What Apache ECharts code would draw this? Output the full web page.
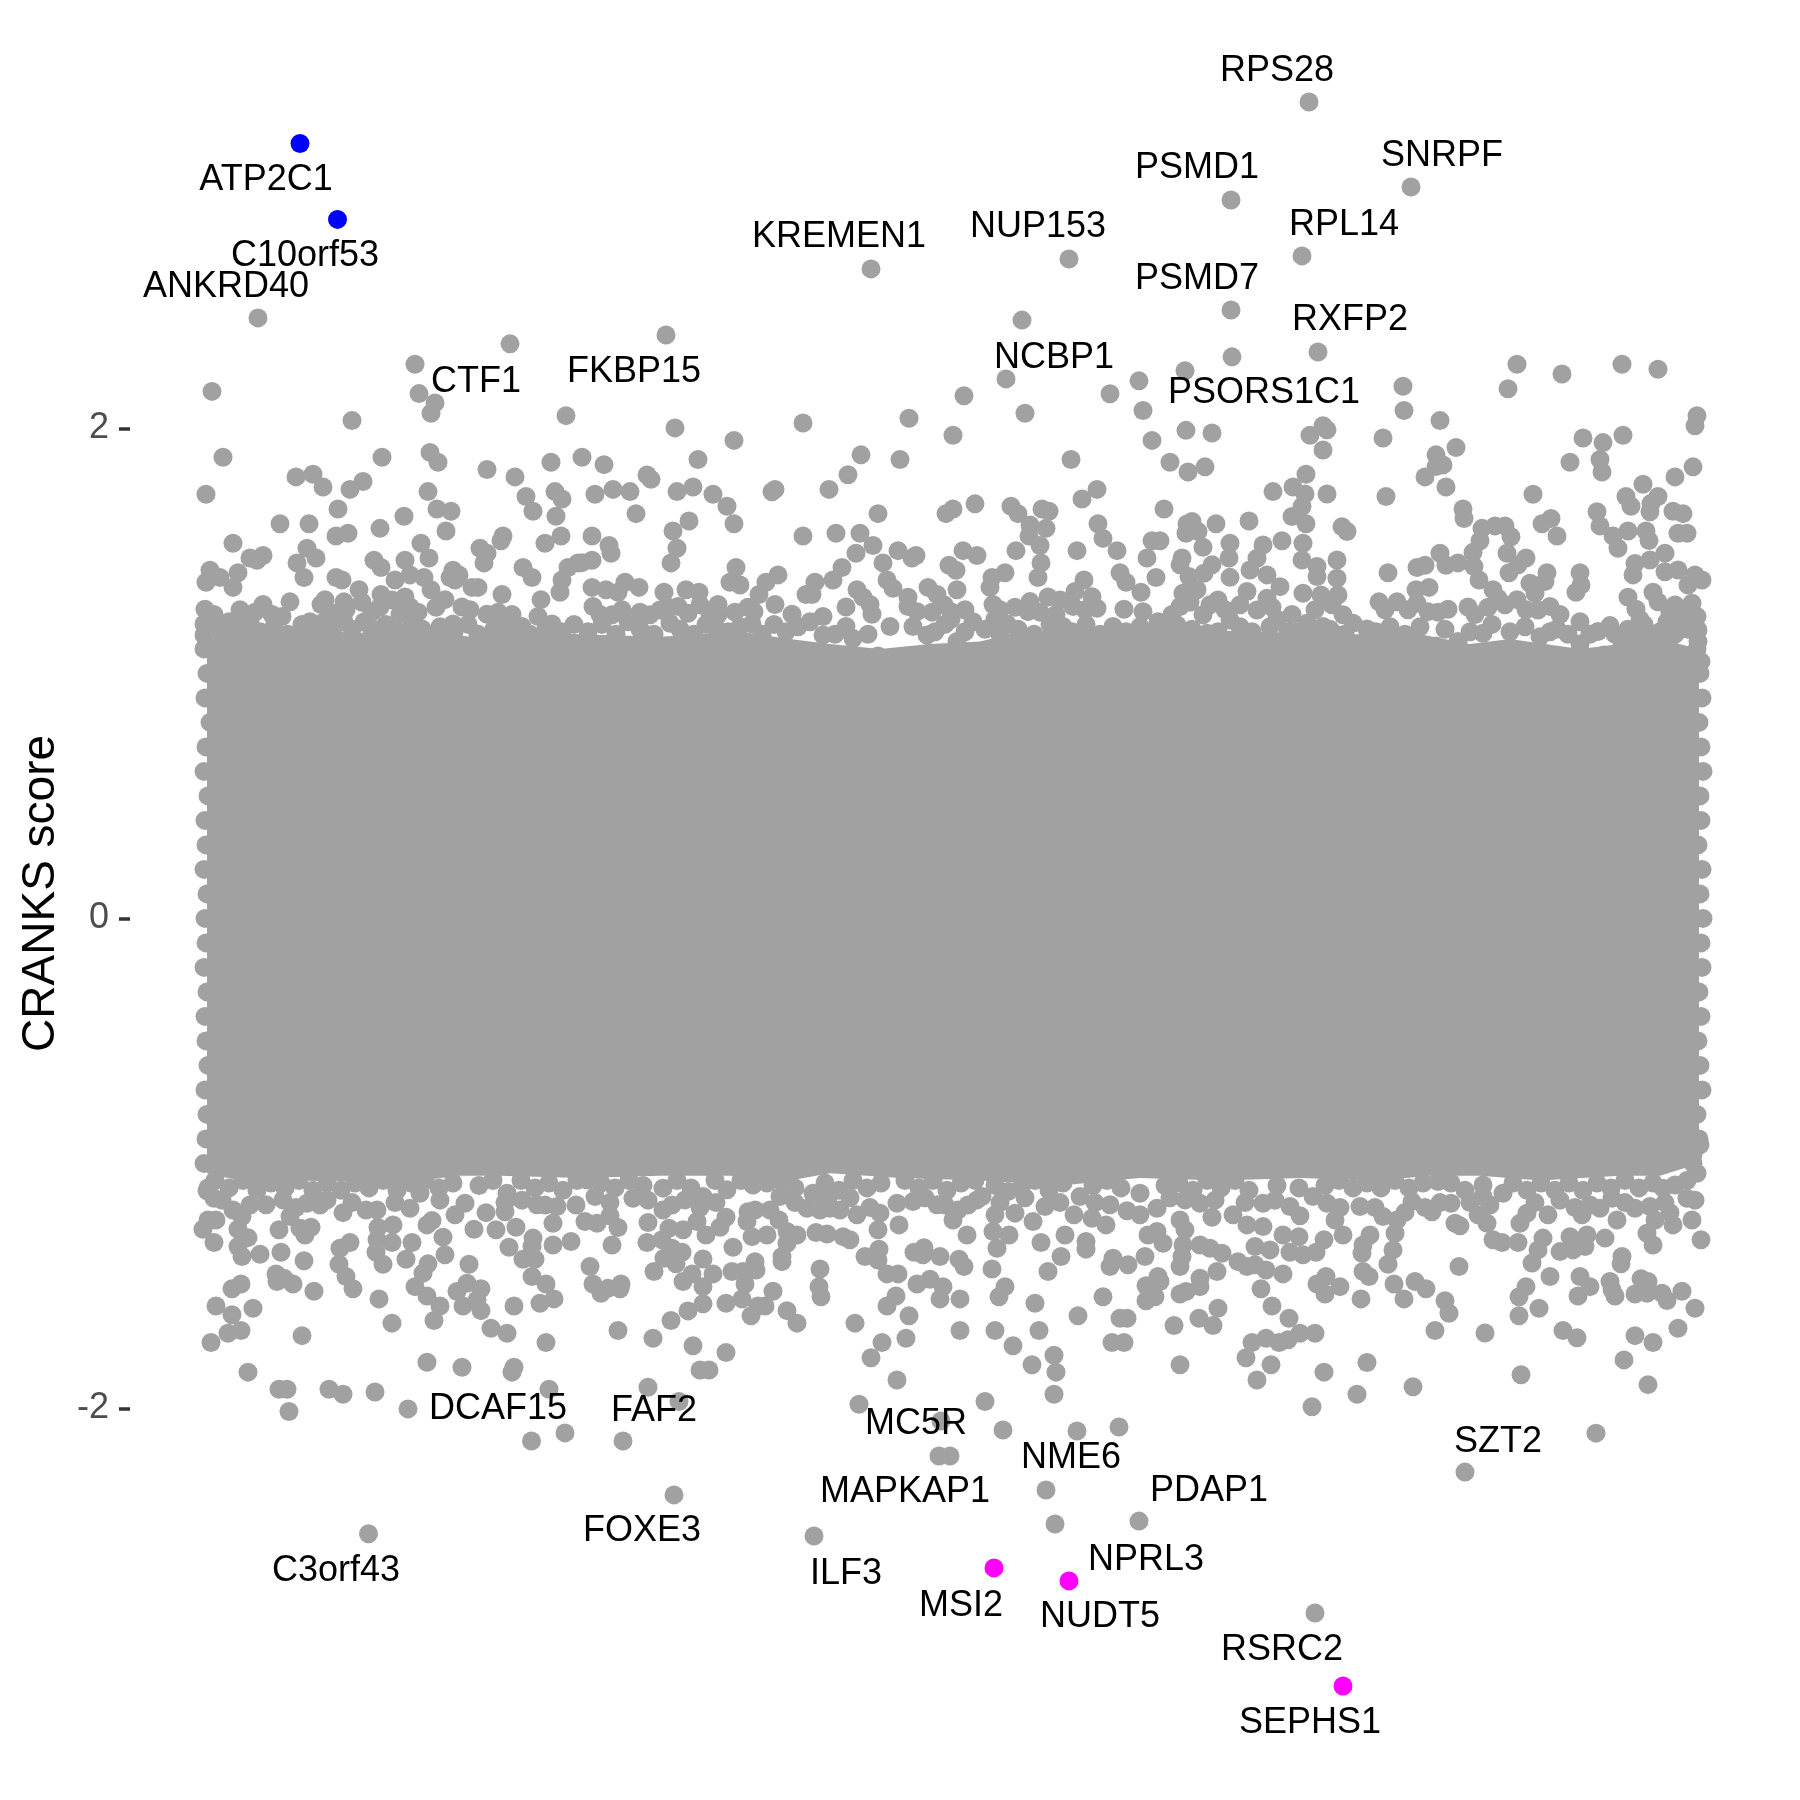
<!DOCTYPE html>
<html><head><meta charset="utf-8">
<style>html,body{margin:0;padding:0;background:#fff}#c{width:1800px;height:1800px}</style>
<script src="https://cdn.jsdelivr.net/npm/echarts@6/dist/echarts.min.js"></script>
</head><body><div id="c"></div>
<script>
const yTicks=[-2,0,2];
const coreUpper=[[207,1.14],[240,1.17],[300,1.18],[340,1.16],[420,1.18],[470,1.15],[520,1.17],[580,1.16],[660,1.15],[740,1.17],[790,1.14],[830,1.12],[880,1.1],[930,1.12],[980,1.13],[1020,1.17],[1100,1.18],[1180,1.18],[1260,1.17],[1340,1.16],[1420,1.16],[1470,1.12],[1510,1.14],[1580,1.1],[1620,1.12],[1660,1.14],[1699,1.1]];
const coreLower=[[207,-1.04],[250,-1.08],[300,-1.07],[400,-1.08],[460,-1.05],[500,-1.05],[580,-1.06],[660,-1.05],[730,-1.05],[790,-1.07],[830,-1.04],[900,-1.06],[980,-1.07],[1060,-1.09],[1140,-1.06],[1220,-1.07],[1300,-1.06],[1380,-1.07],[1430,-1.05],[1480,-1.05],[1540,-1.07],[1620,-1.05],[1660,-1.05],[1699,-1.0]];
const edgeLeft=[[204,1.1],[207,1.0],[205,0.9],[210,0.8],[206,0.7],[204,0.6],[208,0.5],[205,0.4],[206,0.3],[204,0.2],[207,0.1],[205,0],[206,-0.1],[204,-0.2],[207,-0.3],[205,-0.4],[206,-0.5],[208,-0.6],[205,-0.7],[207,-0.8],[206,-0.9],[204,-1.0],[208,-1.1]];
const edgeRight=[[1697,1.1],[1700,1.0],[1702,0.9],[1699,0.8],[1701,0.7],[1703,0.6],[1700,0.5],[1701,0.4],[1698,0.3],[1702,0.2],[1700,0.1],[1703,0],[1701,-0.1],[1702,-0.2],[1699,-0.3],[1701,-0.4],[1698,-0.5],[1700,-0.6],[1702,-0.7],[1697,-0.8],[1699,-0.9],[1693,-1.0]];
const fillTopA=[[218,1.18],[232,1.16],[246,1.2],[260,1.17],[274,1.19],[288,1.16],[302,1.2],[316,1.17],[330,1.19],[352,1.18],[364,1.21],[372,1.16],[386,1.2],[398,1.17],[412,1.21],[428,1.16],[440,1.19],[454,1.17],[468,1.2],[478,1.16],[494,1.18],[512,1.17],[530,1.16],[546,1.18],[562,1.17],[574,1.2],[588,1.17],[602,1.2],[616,1.16],[640,1.18],[654,1.16],[680,1.18],[694,1.16],[706,1.2],[728,1.17],[740,1.19],[762,1.16],[774,1.2],[786,1.17],[798,1.19],[835,1.16],[868,1.16],[935,1.17],[945,1.2],[965,1.17],[985,1.18],[1000,1.16],[1018,1.18],[1034,1.16],[1050,1.2],[1072,1.17],[1086,1.2],[1100,1.16],[1126,1.17],[1140,1.19],[1150,1.16],[1170,1.17],[1192,1.18],[1218,1.17],[1240,1.19],[1252,1.17],[1270,1.19],[1298,1.17],[1314,1.16],[1330,1.18],[1345,1.16],[1376,1.17],[1390,1.19],[1405,1.16],[1420,1.19],[1445,1.18],[1470,1.17],[1492,1.2],[1510,1.17],[1525,1.19],[1550,1.17],[1568,1.16],[1590,1.16],[1615,1.16],[1628,1.18],[1644,1.2],[1660,1.17],[1675,1.16],[1688,1.18]];
const fillTopB=[[214,1.24],[240,1.26],[255,1.25],[272,1.24],[330,1.25],[346,1.26],[362,1.29],[372,1.25],[392,1.3],[400,1.24],[418,1.25],[436,1.27],[470,1.26],[498,1.25],[512,1.24],[600,1.24],[622,1.26],[640,1.25],[668,1.27],[700,1.28],[710,1.24],[735,1.25],[748,1.27],[932,1.25],[944,1.28],[965,1.26],[1000,1.26],[1015,1.27],[1040,1.25],[1056,1.24],[1085,1.26],[1172,1.24],[1190,1.29],[1210,1.28],[1225,1.26],[1240,1.28],[1272,1.27],[1292,1.24],[1315,1.26],[1332,1.28],[1385,1.26],[1408,1.26],[1438,1.25],[1475,1.24],[1488,1.27],[1505,1.28],[1526,1.26],[1560,1.24],[1640,1.22],[1670,1.25],[1685,1.25]];
const fillLowA=[[215,-1.07],[229,-1.1],[243,-1.07],[257,-1.11],[271,-1.08],[285,-1.1],[299,-1.07],[313,-1.11],[327,-1.08],[341,-1.11],[355,-1.08],[369,-1.1],[383,-1.07],[397,-1.11],[411,-1.08],[425,-1.07],[439,-1.1],[453,-1.08],[479,-1.09],[493,-1.07],[521,-1.07],[535,-1.1],[549,-1.08],[563,-1.11],[577,-1.07],[601,-1.08],[615,-1.1],[629,-1.07],[643,-1.09],[677,-1.07],[691,-1.1],[715,-1.07],[741,-1.07],[767,-1.08],[781,-1.07],[795,-1.1],[825,-1.08],[839,-1.11],[853,-1.07],[867,-1.1],[881,-1.08],[905,-1.07],[919,-1.1],[933,-1.07],[947,-1.11],[961,-1.08],[975,-1.07],[995,-1.09],[1021,-1.1],[1035,-1.07],[1049,-1.11],[1063,-1.08],[1093,-1.09],[1107,-1.07],[1121,-1.1],[1165,-1.09],[1179,-1.08],[1193,-1.11],[1207,-1.07],[1221,-1.1],[1235,-1.07],[1249,-1.11],[1277,-1.09],[1299,-1.1],[1325,-1.09],[1339,-1.07],[1353,-1.1],[1367,-1.08],[1381,-1.1],[1395,-1.07],[1409,-1.1],[1423,-1.08],[1451,-1.08],[1465,-1.11],[1513,-1.08],[1527,-1.11],[1541,-1.08],[1555,-1.11],[1569,-1.08],[1583,-1.11],[1597,-1.08],[1611,-1.1],[1625,-1.07],[1639,-1.1],[1653,-1.08],[1687,-1.07]];
const fillLowB=[[222,-1.15],[250,-1.17],[296,-1.18],[320,-1.17],[352,-1.16],[366,-1.19],[395,-1.16],[440,-1.15],[505,-1.16],[522,-1.15],[545,-1.17],[576,-1.17],[610,-1.16],[648,-1.15],[672,-1.17],[700,-1.18],[716,-1.16],[770,-1.19],[795,-1.16],[850,-1.14],[870,-1.18],[925,-1.14],[945,-1.17],[968,-1.17],[1000,-1.16],[1025,-1.14],[1060,-1.16],[1095,-1.16],[1170,-1.14],[1215,-1.15],[1245,-1.16],[1275,-1.15],[1340,-1.18],[1375,-1.18],[1405,-1.2],[1425,-1.18],[1440,-1.16],[1470,-1.16],[1490,-1.17],[1535,-1.16],[1560,-1.15],[1575,-1.18],[1590,-1.17],[1625,-1.16],[1665,-1.16],[1695,-1.15]];
const highUpper=[[1309,3.332],[1411,2.985],[1231,2.932],[1302,2.704],[1069,2.691],[871,2.651],[1231,2.483],[1022,2.442],[258,2.451],[666,2.381],[510,2.345],[1318,2.312],[1232,2.292],[1185,2.235],[1139,2.194],[1110,2.141],[964,2.133],[1006,2.202]];
const upperA=[[212,2.151],[352,2.032],[223,1.882],[206,1.731],[415,2.262],[419,2.142],[435,2.104],[431,2.062],[430,1.902],[438,1.862],[382,1.882],[296,1.802],[313,1.813],[323,1.761],[363,1.783],[350,1.751],[566,2.052],[487,1.832],[515,1.802],[551,1.862],[582,1.882],[555,1.742],[562,1.712],[526,1.722],[533,1.662],[556,1.641],[561,1.561],[545,1.531],[428,1.742],[437,1.671],[451,1.662],[446,1.581],[404,1.641],[380,1.592],[338,1.671],[309,1.611],[280,1.611],[348,1.572],[336,1.561],[233,1.531],[421,1.531],[429,1.471],[503,1.561],[501,1.541],[480,1.511],[487,1.49],[484,1.451],[307,1.511],[316,1.471],[297,1.451],[304,1.391],[263,1.481],[257,1.462],[250,1.471],[210,1.421],[238,1.411],[220,1.391],[206,1.372],[233,1.351],[374,1.462],[381,1.432],[405,1.462],[523,1.432],[532,1.391],[578,1.451],[568,1.432],[562,1.381],[560,1.331],[336,1.391],[342,1.381],[453,1.421],[459,1.402],[450,1.391],[455,1.381],[472,1.351],[478,1.351],[502,1.322],[541,1.301],[395,1.381],[410,1.402],[424,1.391],[431,1.341],[445,1.301],[462,1.271],[487,1.241],[359,1.341],[381,1.322],[405,1.312],[325,1.301],[344,1.292],[321,1.281],[290,1.292],[263,1.281],[205,1.262],[229,1.211],[250,1.211],[282,1.232],[310,1.211],[324,1.211],[344,1.211],[403,1.271],[410,1.271],[380,1.271],[422,1.181],[453,1.202],[504,1.191],[522,1.191],[538,1.232],[552,1.202],[204,1.202],[204,1.157],[293,1.142],[336,1.142],[447,1.151],[480,1.123],[377,1.177]];
const upperB=[[675,2.002],[734,1.951],[803,2.022],[909,2.041],[953,1.972],[861,1.892],[848,1.811],[900,1.873],[829,1.751],[698,1.873],[604,1.852],[595,1.731],[613,1.751],[630,1.742],[647,1.81],[651,1.792],[636,1.652],[677,1.742],[693,1.761],[713,1.731],[727,1.682],[734,1.611],[689,1.622],[673,1.581],[677,1.511],[671,1.451],[592,1.561],[609,1.522],[611,1.49],[592,1.462],[582,1.452],[775,1.751],[772,1.741],[878,1.652],[803,1.561],[836,1.572],[860,1.572],[873,1.522],[856,1.49],[898,1.501],[916,1.481],[912,1.471],[953,1.671],[946,1.652],[975,1.692],[963,1.501],[977,1.481],[949,1.441],[956,1.421],[883,1.451],[842,1.432],[833,1.381],[815,1.372],[806,1.322],[812,1.322],[736,1.432],[730,1.372],[740,1.361],[778,1.402],[766,1.372],[759,1.322],[775,1.281],[792,1.241],[754,1.252],[752,1.202],[846,1.271],[846,1.191],[853,1.142],[857,1.341],[863,1.311],[870,1.281],[872,1.241],[887,1.381],[893,1.347],[908,1.311],[928,1.351],[937,1.322],[957,1.341],[951,1.252],[951,1.221],[973,1.211],[917,1.252],[908,1.273],[890,1.191],[913,1.191],[927,1.157],[928,1.082],[957,1.13],[878,1.071],[902,1.066],[592,1.351],[606,1.341],[618,1.331],[625,1.372],[639,1.351],[664,1.331],[686,1.341],[699,1.331],[718,1.281],[718,1.239],[650,1.239],[660,1.259],[678,1.273],[688,1.245],[593,1.273],[612,1.239],[628,1.211],[823,1.232],[810,1.211],[670,1.205],[715,1.191],[823,1.157]];
const upperC=[[1025,2.062],[1143,2.073],[1152,1.951],[1186,1.992],[1212,1.981],[1310,1.972],[1323,2.011],[1327,1.994],[1323,1.912],[1071,1.873],[1170,1.862],[1188,1.822],[1205,1.843],[1306,1.813],[1273,1.742],[1293,1.761],[1305,1.732],[1327,1.732],[1302,1.681],[1292,1.64],[1306,1.611],[1097,1.751],[1082,1.712],[1164,1.671],[1011,1.682],[1018,1.652],[1042,1.671],[1049,1.662],[1030,1.606],[1046,1.592],[1029,1.561],[1040,1.522],[1041,1.451],[1038,1.391],[1016,1.501],[1077,1.501],[1098,1.611],[1103,1.551],[1117,1.501],[1120,1.411],[1126,1.372],[1141,1.331],[1084,1.381],[1005,1.411],[992,1.391],[990,1.351],[993,1.281],[1030,1.293],[1048,1.312],[1060,1.3],[1075,1.334],[1092,1.313],[1097,1.266],[1073,1.273],[1028,1.252],[995,1.221],[1007,1.202],[1124,1.262],[1143,1.252],[1158,1.211],[1147,1.471],[1152,1.541],[1160,1.541],[1156,1.391],[1187,1.61],[1192,1.62],[1186,1.572],[1198,1.579],[1216,1.611],[1249,1.622],[1282,1.541],[1203,1.515],[1230,1.531],[1182,1.471],[1180,1.443],[1212,1.443],[1204,1.409],[1189,1.395],[1229,1.471],[1230,1.392],[1257,1.47],[1263,1.524],[1250,1.422],[1267,1.402],[1303,1.531],[1302,1.463],[1317,1.436],[1337,1.463],[1342,1.599],[1347,1.579],[1317,1.395],[1337,1.388],[1338,1.32],[1321,1.32],[1303,1.327],[1280,1.354],[1247,1.334],[1218,1.3],[1197,1.341],[1183,1.327],[1180,1.273],[1203,1.239],[1177,1.198],[1277,1.221],[1257,1.259],[1267,1.307],[1230,1.218],[1307,1.205],[1323,1.191],[1343,1.239],[1288,1.171],[1113,1.191],[1063,1.191],[1207,1.164],[1338,1.157]];
const upperD=[[1517,2.262],[1562,2.222],[1622,2.262],[1658,2.241],[1508,2.162],[1403,2.172],[1404,2.073],[1440,2.032],[1383,1.961],[1697,2.052],[1695,2.011],[1693,1.843],[1675,1.802],[1623,1.972],[1583,1.961],[1603,1.942],[1600,1.873],[1602,1.822],[1570,1.862],[1456,1.922],[1436,1.892],[1443,1.851],[1436,1.844],[1425,1.802],[1446,1.761],[1386,1.722],[1533,1.731],[1643,1.772],[1626,1.722],[1631,1.682],[1658,1.722],[1651,1.694],[1650,1.66],[1597,1.66],[1600,1.602],[1673,1.662],[1683,1.652],[1678,1.572],[1687,1.572],[1463,1.671],[1464,1.632],[1551,1.632],[1542,1.611],[1557,1.561],[1613,1.561],[1618,1.511],[1628,1.581],[1646,1.581],[1649,1.542],[1665,1.49],[1482,1.592],[1495,1.602],[1505,1.602],[1511,1.558],[1480,1.541],[1473,1.494],[1440,1.49],[1446,1.441],[1458,1.451],[1474,1.436],[1479,1.381],[1507,1.49],[1526,1.471],[1518,1.443],[1509,1.411],[1547,1.411],[1425,1.441],[1417,1.432],[1388,1.411],[1429,1.351],[1416,1.341],[1379,1.292],[1397,1.292],[1580,1.411],[1581,1.361],[1576,1.331],[1530,1.368],[1545,1.375],[1493,1.341],[1498,1.307],[1517,1.301],[1535,1.327],[1550,1.273],[1538,1.259],[1468,1.271],[1448,1.262],[1428,1.252],[1417,1.286],[1580,1.211],[1557,1.181],[1610,1.195],[1598,1.171],[1635,1.449],[1650,1.463],[1633,1.402],[1665,1.415],[1678,1.422],[1695,1.402],[1702,1.381],[1688,1.361],[1628,1.311],[1636,1.262],[1653,1.331],[1658,1.292],[1675,1.279],[1692,1.286],[1667,1.211],[1697,1.232],[1698,1.177],[1698,1.13],[1680,1.205],[1622,1.12],[1650,1.15],[1635,1.143],[1668,1.116],[1580,1.12],[1436,1.112],[1397,1.109],[1367,1.181],[1353,1.205],[1458,1.13],[1483,1.164],[1540,1.15],[1604,1.075],[1701,1.048],[1458,1.055]];
const lowerA=[[211,-1.731],[228,-1.693],[241,-1.682],[232,-1.618],[216,-1.582],[253,-1.591],[232,-1.512],[241,-1.492],[302,-1.703],[248,-1.852],[279,-1.922],[287,-1.922],[289,-2.013],[329,-1.922],[343,-1.942],[375,-1.933],[408,-2.002],[427,-1.812],[462,-1.832],[514,-1.832],[512,-1.852],[549,-1.922],[546,-1.731],[507,-1.693],[491,-1.673],[481,-1.601],[514,-1.582],[540,-1.571],[554,-1.553],[546,-1.492],[532,-1.462],[463,-1.582],[457,-1.523],[467,-1.489],[481,-1.512],[477,-1.557],[434,-1.641],[440,-1.582],[427,-1.541],[415,-1.503],[423,-1.448],[428,-1.41],[392,-1.652],[379,-1.553],[314,-1.522],[353,-1.512],[346,-1.462],[339,-1.412],[340,-1.346],[350,-1.323],[293,-1.492],[284,-1.469],[277,-1.482],[276,-1.451],[304,-1.397],[281,-1.363],[260,-1.371],[242,-1.38],[238,-1.339],[248,-1.303],[238,-1.269],[214,-1.323],[203,-1.269],[208,-1.231],[216,-1.231],[279,-1.271],[305,-1.292],[311,-1.261],[300,-1.265],[290,-1.217],[242,-1.217],[233,-1.19],[343,-1.201],[383,-1.412],[376,-1.363],[377,-1.312],[392,-1.323],[378,-1.262],[393,-1.251],[406,-1.391],[412,-1.323],[445,-1.373],[443,-1.301],[427,-1.251],[432,-1.233],[474,-1.269],[496,-1.271],[516,-1.261],[509,-1.342],[523,-1.391],[535,-1.391],[533,-1.305],[532,-1.339],[553,-1.333],[571,-1.319],[553,-1.244],[557,-1.176],[455,-1.21],[465,-1.163],[486,-1.201],[505,-1.197],[537,-1.169],[469,-1.412],[207,-1.112],[214,-1.142],[266,-1.169],[283,-1.149],[307,-1.163],[327,-1.149],[410,-1.183],[420,-1.122],[377,-1.19],[507,-1.122]];
const lowerB=[[618,-1.682],[653,-1.714],[671,-1.641],[688,-1.602],[703,-1.573],[693,-1.744],[726,-1.772],[700,-1.843],[709,-1.843],[648,-1.914],[679,-1.972],[855,-1.652],[882,-1.731],[871,-1.793],[906,-1.714],[909,-1.622],[960,-1.682],[897,-1.884],[859,-1.983],[941,-2.051],[887,-1.582],[896,-1.541],[917,-1.492],[930,-1.473],[943,-1.503],[940,-1.553],[960,-1.553],[898,-1.451],[887,-1.451],[878,-1.394],[865,-1.38],[879,-1.35],[914,-1.363],[924,-1.344],[923,-1.373],[940,-1.38],[959,-1.391],[964,-1.421],[967,-1.292],[797,-1.652],[787,-1.601],[821,-1.544],[819,-1.503],[820,-1.431],[782,-1.401],[782,-1.38],[773,-1.522],[765,-1.582],[758,-1.582],[751,-1.622],[742,-1.553],[726,-1.571],[745,-1.492],[703,-1.503],[683,-1.482],[692,-1.451],[713,-1.451],[703,-1.39],[732,-1.441],[755,-1.401],[756,-1.435],[743,-1.441],[733,-1.342],[654,-1.441],[676,-1.41],[664,-1.387],[682,-1.363],[672,-1.346],[647,-1.323],[662,-1.312],[648,-1.241],[663,-1.19],[669,-1.265],[683,-1.271],[706,-1.292],[720,-1.261],[726,-1.22],[697,-1.237],[612,-1.333],[618,-1.262],[610,-1.214],[597,-1.244],[585,-1.237],[590,-1.421],[593,-1.492],[601,-1.53],[620,-1.512],[621,-1.492],[608,-1.51],[595,-1.135],[587,-1.067],[633,-1.142],[685,-1.149],[748,-1.197],[755,-1.19],[747,-1.237],[752,-1.299],[767,-1.292],[779,-1.231],[787,-1.278],[797,-1.292],[787,-1.326],[816,-1.282],[827,-1.288],[843,-1.299],[850,-1.312],[878,-1.271],[899,-1.251],[857,-1.21],[807,-1.183],[820,-1.19],[830,-1.183],[780,-1.135],[813,-1.122],[828,-1.142],[840,-1.19],[880,-1.203],[897,-1.163],[913,-1.156],[937,-1.169],[953,-1.231],[958,-1.19],[977,-1.149],[727,-1.108],[753,-1.088],[703,-1.135],[663,-1.101]];
const lowerC=[[985,-1.972],[1054,-1.942],[1056,-1.852],[1054,-1.783],[1032,-1.822],[1013,-1.744],[995,-1.682],[1039,-1.682],[1035,-1.571],[999,-1.544],[1005,-1.503],[992,-1.431],[1048,-1.441],[1061,-1.38],[1086,-1.35],[1086,-1.319],[1078,-1.622],[1103,-1.544],[1120,-1.632],[1127,-1.632],[1112,-1.731],[1124,-1.731],[1174,-1.662],[1180,-1.822],[1199,-1.632],[1213,-1.662],[1218,-1.591],[1246,-1.793],[1252,-1.731],[1266,-1.714],[1279,-1.731],[1288,-1.72],[1300,-1.693],[1315,-1.693],[1289,-1.632],[1272,-1.582],[1261,-1.512],[1271,-1.822],[1257,-1.884],[1324,-1.852],[1312,-1.993],[1119,-2.076],[1146,-1.561],[1155,-1.544],[1146,-1.499],[1158,-1.462],[1160,-1.482],[1180,-1.533],[1186,-1.523],[1200,-1.503],[1200,-1.469],[1217,-1.441],[1180,-1.421],[1182,-1.38],[1326,-1.462],[1317,-1.492],[1340,-1.503],[1325,-1.533],[1283,-1.451],[1266,-1.435],[1247,-1.421],[1238,-1.401],[1255,-1.414],[1222,-1.367],[1210,-1.346],[1200,-1.333],[1212,-1.22],[1233,-1.21],[1247,-1.251],[1255,-1.339],[1270,-1.353],[1290,-1.363],[1303,-1.373],[1316,-1.363],[1324,-1.312],[1299,-1.299],[1283,-1.292],[1263,-1.258],[1343,-1.292],[1300,-1.214],[1335,-1.231],[1110,-1.421],[1113,-1.387],[1128,-1.414],[1145,-1.38],[1148,-1.292],[1163,-1.326],[1157,-1.278],[1185,-1.271],[1183,-1.333],[997,-1.346],[993,-1.278],[1009,-1.292],[1041,-1.323],[1065,-1.292],[1033,-1.237],[995,-1.21],[1015,-1.203],[1045,-1.176],[1074,-1.21],[1092,-1.224],[1106,-1.251],[1110,-1.169],[1127,-1.193],[1140,-1.21],[1157,-1.183],[1180,-1.231],[1185,-1.149],[1200,-1.163],[1140,-1.122],[1008,-1.115],[982,-1.135],[1080,-1.135],[1263,-1.163],[1290,-1.176],[1313,-1.135],[1327,-1.163]];
const lowerD=[[1357,-1.942],[1413,-1.912],[1367,-1.813],[1521,-1.863],[1648,-1.903],[1624,-1.802],[1653,-1.731],[1635,-1.703],[1678,-1.673],[1695,-1.591],[1682,-1.522],[1667,-1.56],[1662,-1.53],[1647,-1.53],[1635,-1.533],[1648,-1.482],[1641,-1.471],[1485,-1.692],[1435,-1.682],[1449,-1.612],[1445,-1.561],[1426,-1.512],[1415,-1.482],[1404,-1.553],[1394,-1.492],[1361,-1.553],[1369,-1.462],[1363,-1.441],[1388,-1.412],[1459,-1.421],[1519,-1.622],[1539,-1.591],[1519,-1.544],[1526,-1.503],[1550,-1.462],[1563,-1.682],[1577,-1.712],[1578,-1.541],[1590,-1.503],[1580,-1.462],[1615,-1.541],[1612,-1.516],[1610,-1.482],[1621,-1.41],[1622,-1.38],[1532,-1.407],[1538,-1.353],[1543,-1.305],[1560,-1.36],[1573,-1.353],[1585,-1.339],[1587,-1.292],[1605,-1.305],[1617,-1.231],[1570,-1.299],[1653,-1.333],[1647,-1.285],[1673,-1.251],[1670,-1.201],[1692,-1.231],[1701,-1.312],[1655,-1.231],[1635,-1.183],[1650,-1.176],[1687,-1.142],[1460,-1.255],[1455,-1.244],[1432,-1.197],[1451,-1.163],[1478,-1.21],[1487,-1.244],[1493,-1.312],[1502,-1.323],[1518,-1.323],[1520,-1.244],[1527,-1.203],[1370,-1.292],[1363,-1.333],[1362,-1.367],[1393,-1.353],[1395,-1.285],[1397,-1.231],[1383,-1.217],[1360,-1.176],[1412,-1.156],[1548,-1.21],[1582,-1.21],[1600,-1.183],[1612,-1.142],[1663,-1.101],[1675,-1.088],[1697,-1.04],[1700,-0.924],[1693,-0.965],[1438,-1.074],[1503,-1.122],[1483,-1.088],[1483,-1.135]];
const lowLower=[[531.5,-2.133],[565,-2.1],[623,-2.133],[674,-2.353],[368.5,-2.512],[814,-2.521],[939,-2.194],[950,-2.194],[1003,-2.088],[1077,-2.092],[1046,-2.333],[1055,-2.472],[1139,-2.46],[1315,-2.835],[1465,-2.26],[1596,-2.101]];
const bluePoints=[[300,3.163],[337.5,2.853]];
const magentaPoints=[[994,-2.651],[1069,-2.704],[1343,-3.133]];
const geneLabels=[["RPS28",1277,3.467],["ATP2C1",266,3.022],["SNRPF",1442,3.12],["PSMD1",1197,3.069],["RPL14",1344,2.839],["NUP153",1038,2.83],["KREMEN1",839,2.789],["C10orf53",305,2.713],["PSMD7",1197,2.619],["ANKRD40",226,2.586],["RXFP2",1350,2.45],["NCBP1",1054,2.296],["FKBP15",634,2.239],["CTF1",476,2.198],["PSORS1C1",1264,2.151],["DCAF15",498,-1.995],["FAF2",654,-2.002],["MC5R",916,-2.056],["SZT2",1498,-2.128],["NME6",1071,-2.194],["MAPKAP1",905,-2.333],["PDAP1",1209,-2.329],["FOXE3",642,-2.492],["NPRL3",1146,-2.61],["ILF3",846,-2.667],["C3orf43",336,-2.656],["MSI2",961,-2.797],["NUDT5",1100,-2.843],["RSRC2",1282,-2.98],["SEPHS1",1310,-3.275]];

const GRAY='#a1a1a1';
const grayPts=[].concat(edgeLeft,edgeRight,fillTopA,fillTopB,fillLowA,fillLowB,highUpper,upperA,upperB,upperC,upperD,lowerA,lowerB,lowerC,lowerD,lowLower);
const coreSeries=(d,o)=>({type:'line',data:d,symbol:'none',silent:true,lineStyle:{width:0,color:GRAY},itemStyle:{color:GRAY},areaStyle:{color:GRAY,opacity:1,origin:o},z:1});
const dotStyle=c=>({color:c,opacity:1});
const chart=echarts.init(document.getElementById('c'),null,{renderer:'canvas'});
chart.setOption({
  animation:false,backgroundColor:'#fff',
  grid:{left:130,width:1600,top:-13.6,height:1814,outerBoundsMode:'none',containLabel:false},
  xAxis:{type:'value',min:130,max:1730,show:false},
  yAxis:{type:'value',min:-3.6,max:3.804,name:'CRANKS score',nameLocation:'middle',nameGap:66,nameRotate:90,
    nameTextStyle:{fontFamily:'Liberation Sans',fontSize:46,color:'#000'},
    axisLine:{show:false},splitLine:{show:false},
    axisTick:{show:true,length:11,customValues:yTicks,lineStyle:{color:'#333',width:3.5}},
    axisLabel:{customValues:yTicks,margin:21,padding:[4,0,0,0],fontFamily:'Liberation Sans',fontSize:36,color:'#4d4d4d'}},
  series:[
    coreSeries(coreUpper,-0.05),coreSeries(coreLower,0.05),
    {type:'scatter',data:grayPts,symbolSize:19,itemStyle:dotStyle(GRAY),silent:true,z:2},
    {type:'scatter',data:bluePoints,symbolSize:19,itemStyle:dotStyle('#0000ff'),silent:true,z:3},
    {type:'scatter',data:magentaPoints,symbolSize:19,itemStyle:dotStyle('#ff00ff'),silent:true,z:3},
    {type:'scatter',data:geneLabels.map(g=>({name:g[0],value:[g[1],g[2]]})),symbolSize:0,silent:true,z:4,itemStyle:{opacity:1},
      label:{show:true,position:'inside',offset:[0,2],opacity:1,formatter:'{b}',fontFamily:'Liberation Sans',fontSize:36,color:'#000'}}
  ]
});
</script></body></html>
